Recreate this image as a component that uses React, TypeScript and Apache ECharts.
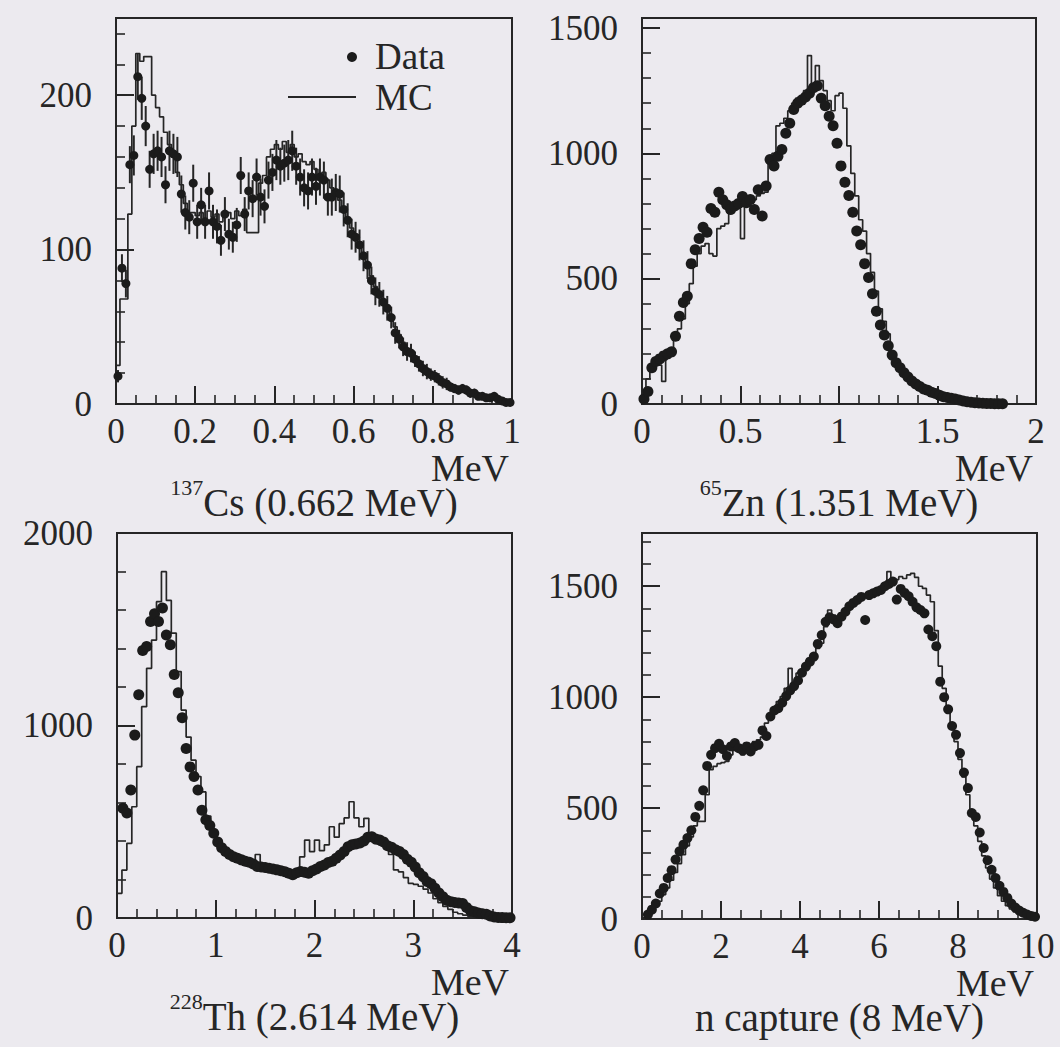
import React, { useEffect, useRef } from "react";
import * as echarts from "echarts";

const FONT = '"Liberation Serif", "Times New Roman", Times, serif';
const INK = "#262626";
const DOT = "#1b1b1b";
const BG = "#ECEAEF";

// ---------- Panel 1: 137Cs (0.662 MeV), x 0..1 MeV, bin 0.01 ----------
const CS_BIN = 0.01;
const CS_DATA = [
  18, 88, 78, 155, 161, 212, 198, 180, 152, 162,
  164, 160, 142, 164, 162, 160, 136, 124, 121, 143,
  118, 129, 118, 138, 118, 115, 106, 123, 110, 108,
  116, 148, 123, 138, 133, 147, 134, 128, 145, 150,
  158, 154, 156, 158, 164, 154, 147, 140, 138, 147,
  141, 147, 145, 134, 134, 137, 136, 126, 119, 110,
  108, 103, 96, 90, 80, 73, 71, 66, 62, 56,
  46, 42, 37, 34, 33, 29, 26, 23, 21, 19,
  18, 16, 14, 13, 11, 10, 9, 10, 9, 7,
  7, 5, 5, 4, 4, 5, 3, 2, 1, 1,
];
const CS_ERR = [
  4, 9, 9, 12, 13, 15, 14, 13, 12, 13,
  13, 13, 12, 13, 13, 13, 12, 11, 11, 12,
  11, 11, 11, 12, 11, 11, 10, 11, 10, 10,
  11, 12, 11, 12, 12, 12, 12, 11, 12, 12,
  13, 12, 12, 13, 13, 12, 12, 12, 12, 12,
  12, 12, 12, 12, 12, 12, 12, 11, 11, 10,
  10, 10, 10, 9, 9, 9, 8, 8, 8, 7,
  7, 6, 6, 6, 6, 5, 5, 5, 5, 4,
  4, 4, 4, 4, 3, 3, 3, 3, 3, 3,
  3, 2, 2, 2, 2, 2, 2, 1, 1, 1,
];
const CS_MC = [
  25, 68, 68, 123, 180, 227, 222, 225, 225, 200,
  192, 186, 176, 168, 160, 150, 142, 130, 124, 124,
  122, 124, 120, 125, 121, 123, 118, 122, 124, 120,
  125, 122, 126, 111, 111, 111, 143, 148, 160, 165,
  168, 165, 170, 163, 168, 160, 162, 157, 155, 157,
  152, 148, 150, 145, 140, 136, 132, 126, 120, 114,
  108, 102, 96, 90, 83, 76, 72, 67, 62, 56,
  50, 45, 40, 36, 33, 30, 27, 24, 22, 20,
  18, 16, 14, 13, 11, 10, 9, 8, 7, 7,
  6, 5, 5, 4, 3, 3, 2, 2, 1, 1,
];

// ---------- Panel 2: 65Zn (1.351 MeV), x 0..2 MeV, bin 0.02 ----------
const ZN_BIN = 0.02;
const ZN_DATA = [
  20, 50, 145, 170, 180, 192, 200, 208, 270, 350,
  405, 430, 560, 615, 660, 705, 685, 780, 765, 845,
  815, 795, 776, 790, 800, 828, 803, 816, 776, 855,
  750, 870, 975, 950, 988, 1015, 1080, 1120, 1175, 1200,
  1212, 1225, 1240, 1262, 1270, 1220, 1190, 1148, 1110, 1040,
  950, 885, 832, 765, 690, 635, 560, 505, 440, 370,
  315, 275, 232, 195, 165, 145, 125, 108, 92, 80,
  70, 60, 55, 47, 42, 35, 29, 26, 23, 20,
  16, 12, 9, 7, 5, 4, 3, 2, 2, 1,
  1, 1, null, null, null, null, null, null, null, null,
];
const ZN_MC = [
  40, 100, 150, 160, 155, 90, 200, 210, 256, 300,
  340, 400, 480, 550, 600, 630, 640, 600, 590, 700,
  710, 720, 760, 790, 780, 660, 790, 800, 815, 830,
  840, 845, 990, 1000, 1110, 1120, 1140, 1170, 1200, 1220,
  1230, 1250, 1390, 1256, 1350, 1290, 1250, 1210, 1170, 1230,
  1240, 1180, 1030, 920, 830, 735, 690, 600, 525, 450,
  380, 330, 280, 210, 175, 150, 130, 110, 92, 80,
  70, 60, 52, 45, 38, 32, 27, 23, 19, 16,
  13, 11, 9, 7, 6, 5, 4, 3, 3, 2,
  2, 1, 1, 1, 0, 0, 0, 0, 0, 0,
];

// ---------- Panel 3: 228Th (2.614 MeV), x 0..4 MeV ----------
const TH_DATA_BIN = 0.04;
const TH_DATA = [
  null, 570, 545, 665, 950, 1160, 1390, 1410, 1540, 1580,
  1540, 1610, 1470, 1420, 1265, 1170, 1040, 880, 785, 735,
  665, 560, 510, 480, 440, 395, 365, 345, 330, 318,
  310, 302, 295, 290, 280, 268, 265, 262, 258, 255,
  250, 245, 240, 232, 225, 235, 241, 238, 233, 245,
  255, 267, 275, 288, 295, 310, 327, 345, 370, 380,
  385, 390, 400, 420, 422, 410, 405, 395, 375, 368,
  355, 345, 330, 305, 290, 265, 235, 215, 190, 178,
  155, 130, 110, 92, 85, 80, 78, 75, 55, 38,
  32, 26, 22, 20, 10, 5, 3, 2, 1, 1,
];
const TH_MC_BIN = 0.05;
const TH_MC = [
  128, 249, 388, 578, 786, 1098, 1297, 1444, 1643, 1799,
  1650, 1480, 1280, 1080, 940, 820, 735, 655, 530, 455,
  400, 365, 340, 320, 305, 300, 290, 280, 330, 265,
  258, 252, 248, 242, 238, 232, 240, 318, 405, 345,
  405, 350, 380, 474, 420, 490, 520, 604, 520, 474,
  518, 422, 388, 380, 360, 330, 250, 240, 210, 180,
  175, 165, 150, 130, 100, 80, 60, 45, 30, 22,
  15, 10, 7, 5, 3, 2, 1, 1, 0, 0,
];

// ---------- Panel 4: n capture (8 MeV), x 0..10 MeV, bin 0.1 ----------
const NC_BIN = 0.1;
const NC_DATA = [
  null, 20, 42, 70, 115, 140, 185, 220, 268, 305,
  335, 365, 400, 460, 510, 580, 690, 740, 770, 790,
  765, 735, 778, 793, 770, 760, 778, 755, 778, 785,
  850, 825, 913, 940, 950, 975, 1005, 1030, 1050, 1075,
  1110, 1138, 1160, 1183, 1240, 1280, 1340, 1360, 1350, 1333,
  1363, 1385, 1410, 1425, 1438, 1452, 1348, 1460, 1468, 1476,
  1483, 1500, 1510, 1521, 1440, 1488, 1470, 1455, 1430, 1405,
  1393, 1378, 1305, 1275, 1230, 1070, 1000, 945, 870, 830,
  748, 660, 590, 478, 460, 390, 320, 265, 222, 185,
  150, 122, 95, 70, 52, 38, 28, 20, 14, 10,
];
const NC_MC = [
  5, 15, 30, 55, 80, 110, 140, 175, 210, 250,
  290, 330, 370, 420, 440, 440, 560, 673, 688, 700,
  705, 710, 740, 760, 770, 740, 793, 760, 800, 808,
  820, 883, 900, 943, 980, 1003, 1040, 1130, 1063, 1108,
  1120, 1138, 1160, 1183, 1220, 1243, 1318, 1393, 1370, 1365,
  1380, 1393, 1410, 1423, 1440, 1453, 1460, 1468, 1475, 1480,
  1490, 1498, 1566, 1520, 1530, 1543, 1535, 1551, 1558, 1540,
  1500, 1490, 1460, 1430, 1300, 1140, 1040, 950, 860, 800,
  720, 640, 560, 480, 420, 350, 285, 230, 180, 140,
  105, 80, 60, 45, 32, 24, 18, 12, 8, 5,
];

// ---------- Axis scales (max, major step, minor step) ----------
const X_SCALES = [
  [1, 0.2, 0.05],
  [2, 0.5, 0.1],
  [4, 1, 0.2],
  [10, 2, 0.5],
];
const Y_SCALES = [
  [250, 100, 20],
  [1540, 500, 100],
  [2000, 1000, 200],
  [1740, 500, 100],
];

const TITLES = [
  { sup: "137", name: "Cs (0.662 MeV)" },
  { sup: "65", name: "Zn (1.351 MeV)" },
  { sup: "228", name: "Th (2.614 MeV)" },
  { sup: "", name: "n capture (8 MeV)" },
];

// plot boxes [left, top, width, height]
const BOXES = [
  [116, 18, 396, 386],
  [642, 18, 394, 386],
  [117, 533, 395, 385],
  [642, 533, 395, 386],
];

const histLine = (vals: number[], bin: number) => {
  const pts: number[][] = [[0, 0]];
  vals.forEach((v, i) => pts.push([i * bin, v]));
  pts.push([vals.length * bin, vals[vals.length - 1]]);
  return pts;
};
const dots = (vals: (number | null)[], bin: number) =>
  vals
    .map((v, i) => (v == null ? null : [(i + 0.5) * bin, v]))
    .filter((p) => p !== null) as number[][];

const fmt = (v: number) => String(Math.round(v * 1000) / 1000);

function buildOption() {
  const grid: any[] = [];
  const xAxis: any[] = [];
  const yAxis: any[] = [];
  const series: any[] = [];
  const graphic: any[] = [];

  const panels = [
    { data: CS_DATA, dBin: CS_BIN, mc: CS_MC, mBin: CS_BIN, size: 9 },
    { data: ZN_DATA, dBin: ZN_BIN, mc: ZN_MC, mBin: ZN_BIN, size: 11 },
    { data: TH_DATA, dBin: TH_DATA_BIN, mc: TH_MC, mBin: TH_MC_BIN, size: 11 },
    { data: NC_DATA, dBin: NC_BIN, mc: NC_MC, mBin: NC_BIN, size: 10 },
  ];

  panels.forEach((p, k) => {
    const [l, t, w, h] = BOXES[k];
    grid.push({
      left: l,
      top: t,
      width: w,
      height: h,
      show: true,
      borderColor: INK,
      borderWidth: 2,
      backgroundColor: "transparent",
      containLabel: false,
      outerBoundsMode: "none",
    });
    const [xMax, xMaj, xMin] = X_SCALES[k];
    const [yMax, yMaj, yMin] = Y_SCALES[k];
    const labelStyle = {
      fontFamily: FONT,
      fontSize: 35,
      color: INK,
      formatter: fmt,
    };
    xAxis.push({
      type: "value",
      gridIndex: k,
      position: "bottom",
      min: 0,
      max: xMax,
      interval: xMaj,
      axisLine: { show: true, lineStyle: { color: INK, width: 2 } },
      axisTick: { show: true, inside: true, length: 18, lineStyle: { color: INK, width: 2 } },
      axisLabel: { ...labelStyle, margin: 10, showMinLabel: true, showMaxLabel: true },
      splitLine: { show: false },
    });
    xAxis.push({
      type: "value",
      gridIndex: k,
      position: "bottom",
      min: 0,
      max: xMax,
      interval: xMin,
      axisLine: { show: false },
      axisTick: { show: true, inside: true, length: 9, lineStyle: { color: INK, width: 1.6 } },
      axisLabel: { show: false },
      splitLine: { show: false },
    });
    yAxis.push({
      type: "value",
      gridIndex: k,
      position: "left",
      min: 0,
      max: yMax,
      interval: yMaj,
      axisLine: { show: true, lineStyle: { color: INK, width: 2 } },
      axisTick: { show: true, inside: true, length: 18, lineStyle: { color: INK, width: 2 } },
      axisLabel: {
        ...labelStyle,
        margin: 24,
        showMinLabel: true,
        showMaxLabel: yMax % yMaj === 0,
      },
      splitLine: { show: false },
    });
    yAxis.push({
      type: "value",
      gridIndex: k,
      position: "left",
      min: 0,
      max: yMax,
      interval: yMin,
      axisLine: { show: false },
      axisTick: { show: true, inside: true, length: 9, lineStyle: { color: INK, width: 1.6 } },
      axisLabel: { show: false },
      splitLine: { show: false },
    });

    series.push({
      name: "MC",
      type: "line",
      xAxisIndex: 2 * k,
      yAxisIndex: 2 * k,
      step: "end",
      symbol: "none",
      clip: true,
      silent: true,
      data: histLine(p.mc, p.mBin),
      lineStyle: { color: INK, width: 1.7 },
      z: 2,
    });
    if (k === 0) {
      series.push({
        name: "Data errors",
        type: "custom",
        xAxisIndex: 0,
        yAxisIndex: 0,
        clip: true,
        silent: true,
        data: CS_DATA.map((v, i) => [(i + 0.5) * CS_BIN, v - CS_ERR[i], v + CS_ERR[i]]),
        encode: { x: 0, y: [1, 2] },
        renderItem: (params: any, api: any) => {
          const a = api.coord([api.value(0), api.value(1)]);
          const b = api.coord([api.value(0), api.value(2)]);
          return {
            type: "line",
            shape: { x1: a[0], y1: a[1], x2: b[0], y2: b[1] },
            style: { stroke: INK, lineWidth: 2 },
          };
        },
        z: 3,
      });
    }
    series.push({
      name: "Data",
      type: "scatter",
      xAxisIndex: 2 * k,
      yAxisIndex: 2 * k,
      symbol: "circle",
      symbolSize: p.size,
      clip: true,
      silent: true,
      data: dots(p.data, p.dBin),
      itemStyle: { color: DOT, opacity: 1 },
      z: 4,
    });

    // "MeV" axis name
    graphic.push({
      type: "text",
      x: l + w - 3,
      y: t + h + 64,
      silent: true,
      style: {
        text: "MeV",
        fill: INK,
        fontFamily: FONT,
        fontSize: 38,
        align: "right",
        verticalAlign: "middle",
      },
    });
    // panel title with superscript mass number
    const tt = TITLES[k];
    const txt = (tt.sup ? `{s|${tt.sup}}` : "") + `{m|${tt.name}}`;
    graphic.push({
      type: "text",
      x: l + w / 2,
      y: t + h + 72,
      silent: true,
      style: {
        text: txt,
        fill: INK,
        fontFamily: FONT,
        fontSize: 39,
        align: "center",
        verticalAlign: "top",
        rich: {
          s: { fontSize: 22, lineHeight: 22, verticalAlign: "top", fontFamily: FONT, fill: INK },
          m: { fontSize: 39, lineHeight: 42, padding: [10, 0, 0, 0], fontFamily: FONT, fill: INK },
        },
      },
    });
  });

  // legend (top-left panel)
  graphic.push(
    { type: "circle", silent: true, shape: { cx: 352, cy: 57, r: 5 }, style: { fill: DOT } },
    {
      type: "text",
      x: 375,
      y: 56,
      silent: true,
      style: { text: "Data", fill: INK, fontFamily: FONT, fontSize: 37, lineHeight: 38, align: "left", verticalAlign: "middle" },
    },
    {
      type: "line",
      silent: true,
      shape: { x1: 288, y1: 97, x2: 356, y2: 97 },
      style: { stroke: INK, lineWidth: 2 },
    },
    {
      type: "text",
      x: 375,
      y: 97,
      silent: true,
      style: { text: "MC", fill: INK, fontFamily: FONT, fontSize: 37, lineHeight: 38, align: "left", verticalAlign: "middle" },
    }
  );

  return {
    animation: false,
    backgroundColor: BG,
    grid,
    xAxis,
    yAxis,
    series,
    graphic,
    tooltip: { show: false },
  };
}

export default function App() {
  const ref = useRef<HTMLDivElement | null>(null);
  useEffect(() => {
    if (!ref.current) return;
    const chart = echarts.init(ref.current, undefined, { renderer: "svg" });
    chart.setOption(buildOption() as any);
    return () => chart.dispose();
  }, []);
  return (
    <div
      ref={ref}
      style={{ position: "absolute", left: 0, top: 0, width: 1060, height: 1047, background: BG }}
    />
  );
}
